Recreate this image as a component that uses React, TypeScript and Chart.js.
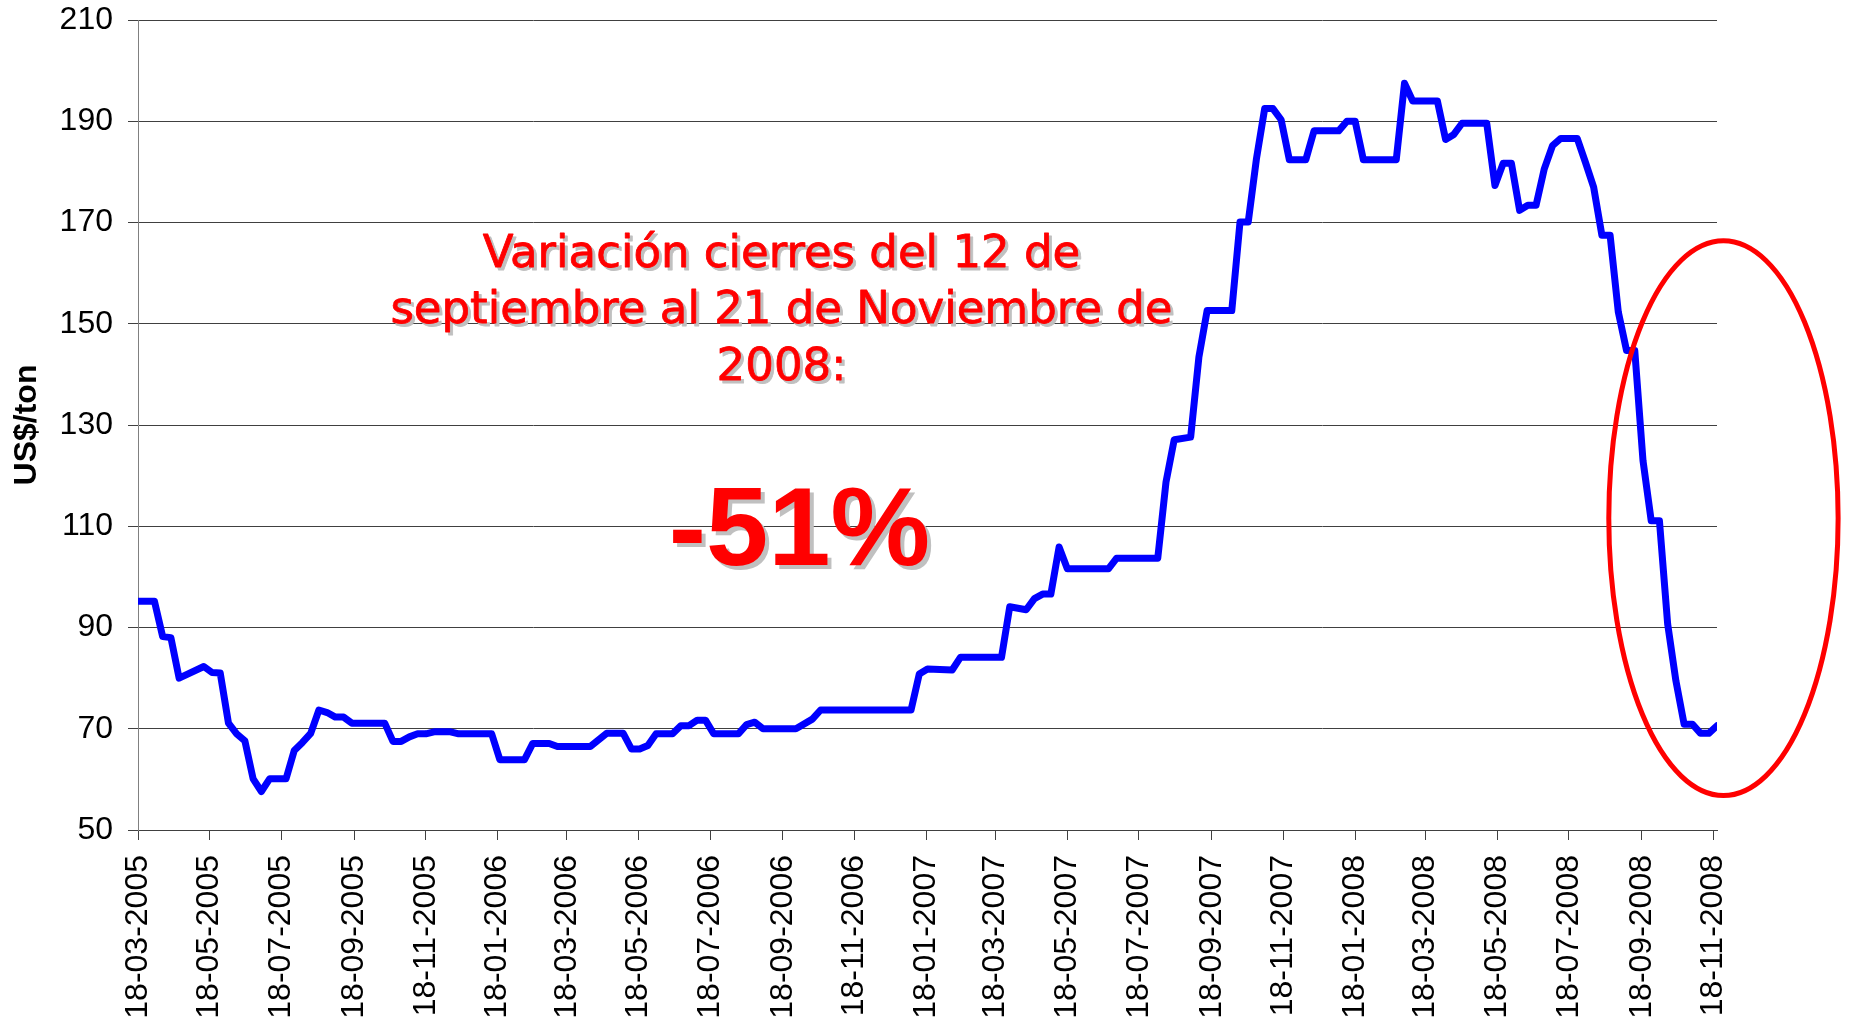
import React, { useEffect, useRef } from 'react';
import { Chart, registerables } from 'chart.js';

Chart.register(...registerables);

// ---- data ----
const START_DATE = '18-03-2005'; // week 0 (weekly Friday closes)
const weekNumbers = [
  0, 1, 2, 3, 4, 5, 8, 9, 10, 11, 12, 13, 14, 15, 16, 18, 19, 20, 21, 22, 23, 24, 25, 26, 30,
  31, 32, 33, 34, 35, 36, 38, 39, 43, 44, 47, 48, 50, 51, 55, 57, 59, 60, 61, 62, 63, 65, 66,
  67, 68, 69, 70, 73, 74, 75, 76, 80, 82, 83, 94, 95, 96, 99, 100, 105, 106, 108, 109, 110,
  111, 112, 113, 118, 119, 124, 125, 126, 128, 129, 130, 133, 134, 135, 136, 137, 138, 139,
  140, 142, 143, 146, 147, 148, 149, 153, 154, 155, 158, 159, 160, 161, 164, 165, 166, 167,
  168, 169, 170, 171, 172, 173, 175, 176, 177, 178, 179, 180, 181, 182, 183, 184, 185, 186,
  187, 188, 189, 190, 191, 192,
];
const prices = [
  95.2, 95.2, 95.2, 88.2, 88.0, 80.0, 82.3, 81.1, 81.0, 71.1, 69.0, 67.6, 60.1, 57.6, 60.1, 60.1,
  65.7, 67.3, 69.1, 73.7, 73.2, 72.3, 72.3, 71.1, 71.1,
  67.5, 67.5, 68.4, 69.0, 69.0, 69.4, 69.4, 69.0, 69.0, 63.9, 63.9, 67.1, 67.1, 66.5, 66.5,
  69.1, 69.1, 66.0, 66.0, 66.7, 69.0, 69.0, 70.6,
  70.6, 71.7, 71.7, 69.0, 69.0, 70.8, 71.3, 70.0, 70.0, 71.9, 73.7, 73.7, 80.8, 81.8, 81.6,
  84.1, 84.1, 94.1, 93.5, 95.7, 96.6,
  96.6, 105.9, 101.6, 101.6, 103.7, 103.7, 118.7, 127.1, 127.6, 143.4, 152.6, 152.6, 170.1,
  170.1, 182.6, 192.5, 192.5, 190.3,
  182.4, 182.4, 188.1, 188.1, 190.0, 190.0, 182.4, 182.4, 197.5, 194.0, 194.0, 186.4, 187.4,
  189.6, 189.6, 177.3, 181.7, 181.7,
  172.4, 173.4, 173.4, 180.6, 185.2, 186.6, 186.6, 181.9, 177.0, 167.5, 167.5, 152.3, 144.7,
  144.7, 123.0, 111.1, 111.1, 90.7,
  79.5, 70.9, 70.9, 69.1, 69.1, 70.6,
];
const xTickLabels = [
  '18-03-2005', '18-05-2005', '18-07-2005', '18-09-2005', '18-11-2005',
  '18-01-2006', '18-03-2006', '18-05-2006', '18-07-2006', '18-09-2006', '18-11-2006',
  '18-01-2007', '18-03-2007', '18-05-2007', '18-07-2007', '18-09-2007', '18-11-2007',
  '18-01-2008', '18-03-2008', '18-05-2008', '18-07-2008', '18-09-2008', '18-11-2008',
];
const END_DATE = '21-11-2008';
const yMin = 50;
const yMax = 210;
const yStep = 20;
const yTitle = 'US$/ton';
const noteLines = ['Variación cierres del 12 de', 'septiembre al 21 de Noviembre de', '2008:'];
const changeText = '-51%';

// ---- helpers ----
const DAY_MS = 86400000;
function parseDMY(s: string): number {
  const [d, m, y] = s.split('-').map(Number);
  return Date.UTC(y, m - 1, d);
}
const startMs = parseDMY(START_DATE);
const dayOf = (s: string) => Math.round((parseDMY(s) - startMs) / DAY_MS);
const tickDays = xTickLabels.map(dayOf);
const points = weekNumbers.map((w, i) => ({ x: w * 7, y: prices[i] }));

const FONT = '"Liberation Sans", Arial, sans-serif';

const annotationPlugin = {
  id: 'noteAnnotations',
  afterDatasetsDraw(chart: any) {
    const { ctx } = chart;
    const xs = chart.scales.x;
    const ys = chart.scales.y;
    ctx.save();
    // explanatory text
    ctx.textAlign = 'center';
    ctx.textBaseline = 'alphabetic';
    ctx.font = '45px "DejaVu Sans", sans-serif';
    ctx.lineJoin = 'round';
    const cx = xs.getPixelForValue(547.7);
    const baseVals = [161.2, 150.1, 138.9];
    noteLines.forEach((t, i) => {
      const by = ys.getPixelForValue(baseVals[i]);
      ctx.fillStyle = '#c0c0c0';
      ctx.strokeStyle = '#c0c0c0';
      ctx.lineWidth = 0.8;
      ctx.fillText(t, cx + 3, by + 3);
      ctx.strokeText(t, cx + 3, by + 3);
      ctx.fillStyle = '#ff0000';
      ctx.strokeStyle = '#ff0000';
      ctx.fillText(t, cx, by);
      ctx.strokeText(t, cx, by);
    });
    // big percentage
    ctx.font = `bold 112px ${FONT}`;
    const px = xs.getPixelForValue(563);
    const py = ys.getPixelForValue(102.3);
    ctx.fillStyle = '#c0c0c0';
    ctx.fillText(changeText, px + 4, py + 4);
    ctx.fillStyle = '#ff0000';
    ctx.fillText(changeText, px, py);
    // red ellipse around the last weeks
    const ex = xs.getPixelForValue(1349.5);
    const ey = ys.getPixelForValue(111.6);
    const rx = Math.abs(xs.getPixelForValue(1349.5 + 97.6) - ex);
    const ry = Math.abs(ys.getPixelForValue(111.6 + 54.8) - ey);
    ctx.beginPath();
    ctx.ellipse(ex, ey, rx, ry, 0, 0, Math.PI * 2);
    ctx.strokeStyle = '#ff0000';
    ctx.lineWidth = 5;
    ctx.stroke();
    ctx.restore();
  },
};

export default function App() {
  const canvasRef = useRef<HTMLCanvasElement | null>(null);

  useEffect(() => {
    document.body.style.margin = '0';
    const canvas = canvasRef.current;
    if (!canvas) return;
    const chart = new Chart(canvas, {
      type: 'line',
      data: {
        datasets: [
          {
            data: points,
            borderColor: '#0000ff',
            backgroundColor: '#0000ff',
            borderWidth: 7,
            pointRadius: 0,
            tension: 0,
            borderJoinStyle: 'round',
            borderCapStyle: 'round',
            fill: false,
          },
        ],
      },
      options: {
        animation: false,
        responsive: false,
        devicePixelRatio: 1,
        parsing: false,
        layout: { padding: { left: 0, right: 136, top: 20, bottom: 0 } },
        plugins: {
          legend: { display: false },
          tooltip: { enabled: false },
          title: { display: false },
        },
        scales: {
          x: {
            type: 'linear',
            min: 0,
            max: dayOf(END_DATE),
            afterBuildTicks: (scale: any) => {
              scale.ticks = tickDays.map((v) => ({ value: v }));
            },
            afterFit: (scale: any) => {
              scale.height = 190;
              scale.paddingLeft = 0;
              scale.paddingRight = 0;
            },
            ticks: {
              autoSkip: false,
              minRotation: 90,
              maxRotation: 90,
              padding: 15,
              color: '#000000',
              font: { family: FONT, size: 32 },
              callback: (value: any) => {
                const idx = tickDays.indexOf(Number(value));
                return idx >= 0 ? xTickLabels[idx] : '';
              },
            },
            grid: {
              drawOnChartArea: false,
              drawTicks: true,
              tickLength: 10,
              color: '#404040',
              lineWidth: 1,
            },
            border: { display: true, color: '#404040', width: 1 },
          },
          y: {
            type: 'linear',
            min: yMin,
            max: yMax,
            afterFit: (scale: any) => {
              scale.width = 138;
              scale.paddingTop = 0;
              scale.paddingBottom = 0;
            },
            ticks: {
              stepSize: yStep,
              padding: 15,
              color: '#000000',
              font: { family: FONT, size: 32 },
            },
            grid: {
              color: '#404040',
              lineWidth: 1,
              tickLength: 10,
            },
            border: { display: true, color: '#808080', width: 1 },
            title: {
              display: true,
              text: yTitle,
              color: '#000000',
              font: { family: FONT, size: 32, weight: 'bold' },
              padding: { top: 8, bottom: 0 },
            },
          },
        },
      },
      plugins: [annotationPlugin],
    } as any);
    return () => chart.destroy();
  }, []);

  return (
    <div style={{ width: 1853, height: 1020 }}>
      <canvas ref={canvasRef} width={1853} height={1020} style={{ display: 'block' }} />
    </div>
  );
}
